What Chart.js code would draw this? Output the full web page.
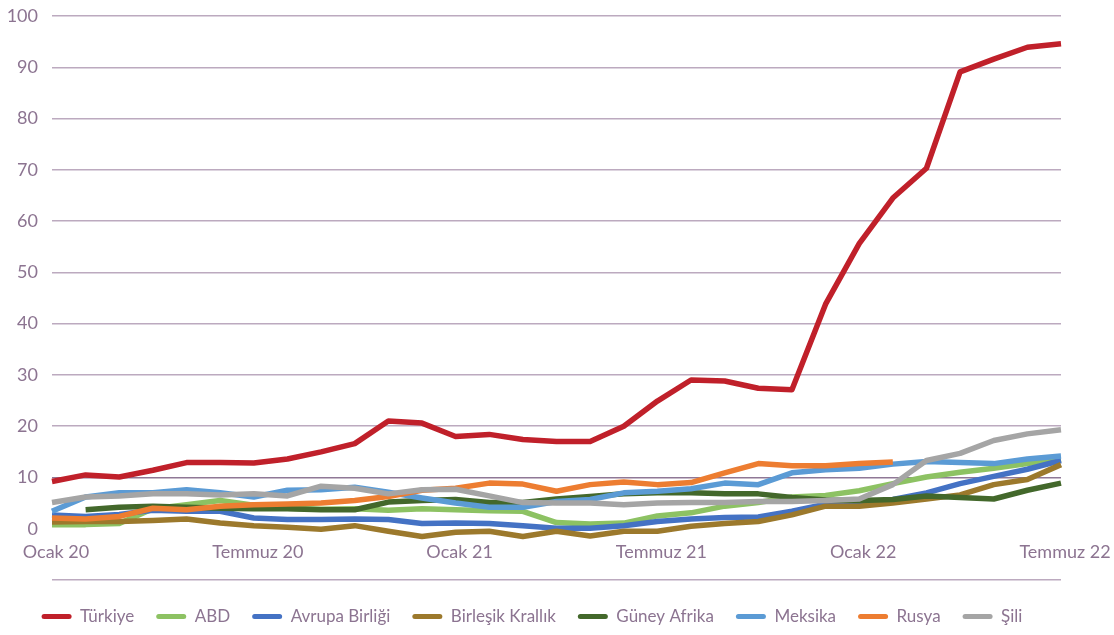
<!DOCTYPE html>
<html>
<head>
<meta charset="utf-8">
<script src="https://cdn.jsdelivr.net/npm/chart.js@4"></script>
<style>
  html, body { margin: 0; padding: 0; background: #fff; }
  #wrap { width: 1114px; height: 635px; }
</style>
</head>
<body>
<div id="wrap"><canvas id="chart" width="1114" height="635"></canvas></div>
<script>
// aylar (Ocak 20 - Temmuz 22)
const months = [
  "Ocak 20", "Şubat 20", "Mart 20", "Nisan 20", "Mayıs 20", "Haziran 20",
  "Temmuz 20", "Ağustos 20", "Eylül 20", "Ekim 20", "Kasım 20", "Aralık 20",
  "Ocak 21", "Şubat 21", "Mart 21", "Nisan 21", "Mayıs 21", "Haziran 21",
  "Temmuz 21", "Ağustos 21", "Eylül 21", "Ekim 21", "Kasım 21", "Aralık 21",
  "Ocak 22", "Şubat 22", "Mart 22", "Nisan 22", "Mayıs 22", "Haziran 22",
  "Temmuz 22"
];

const turkiye = [9.2, 10.5, 10.1, 11.4, 12.9, 12.9, 12.8, 13.6, 15.0, 16.6, 21.0, 20.6, 18.0, 18.4, 17.4, 17.0, 17.0, 20.0, 24.9, 29.0, 28.8, 27.4, 27.1, 43.8, 55.6, 64.5, 70.3, 89.1, 91.6, 93.9, 94.6];
const abd = [0.8, 0.8, 1.0, 3.9, 4.7, 5.5, 4.6, 4.0, 3.8, 3.9, 3.6, 3.9, 3.7, 3.5, 3.4, 1.2, 0.9, 1.1, 2.5, 3.1, 4.4, 5.1, 6.2, 6.5, 7.4, 8.8, 10.1, 11.0, 11.8, 12.7, 13.5];
const avrupaBirligi = [2.7, 2.4, 2.8, 3.6, 3.4, 3.4, 2.1, 1.8, 1.8, 1.9, 1.8, 1.0, 1.1, 1.0, 0.6, 0.1, 0.1, 0.6, 1.4, 1.9, 2.2, 2.3, 3.4, 4.8, 4.9, 5.7, 7.0, 8.8, 10.2, 11.6, 13.3];
const birlesikKrallik = [1.3, 1.4, 1.4, 1.6, 1.9, 1.1, 0.6, 0.3, -0.1, 0.6, -0.5, -1.5, -0.7, -0.5, -1.5, -0.5, -1.4, -0.5, -0.5, 0.5, 1.0, 1.4, 2.7, 4.4, 4.4, 5.0, 5.8, 6.6, 8.6, 9.6, 12.5];
const guneyAfrika = [null, 3.7, 4.2, 4.4, 4.2, 4.0, 3.9, 3.9, 3.7, 3.7, 5.2, 5.5, 5.7, 5.1, 5.1, 5.8, 6.3, 6.8, 7.0, 7.0, 6.8, 6.8, 6.1, 5.6, 5.5, 5.7, 6.4, 6.1, 5.8, 7.5, 8.9];
const meksika = [3.4, 6.2, 7.0, 7.0, 7.6, 7.0, 6.2, 7.5, 7.6, 8.1, 7.1, 6.0, 5.0, 4.2, 4.2, 5.3, 5.7, 7.0, 7.3, 7.8, 8.9, 8.6, 10.9, 11.5, 11.8, 12.6, 13.1, 12.9, 12.7, 13.6, 14.2];
const rusya = [2.1, 1.9, 2.4, 4.0, 3.7, 4.4, 4.7, 4.8, 5.0, 5.5, 6.3, 7.5, 7.9, 8.9, 8.7, 7.3, 8.6, 9.1, 8.6, 9.0, 10.9, 12.7, 12.3, 12.3, 12.7, 13.0, null, null, null, null, null];
const sili = [5.1, 6.2, 6.4, 6.8, 6.8, 6.6, 6.8, 6.4, 8.3, 7.9, 6.8, 7.6, 7.7, 6.4, 5.1, 5.0, 5.0, 4.7, 5.0, 5.1, 5.1, 5.3, 5.3, 5.5, 5.8, 8.6, 13.3, 14.7, 17.2, 18.5, 19.3];

const seriesNames = ["Türkiye", "ABD", "Avrupa Birliği", "Birleşik Krallık", "Güney Afrika", "Meksika", "Rusya", "Şili"];
const seriesData = [turkiye, abd, avrupaBirligi, birlesikKrallik, guneyAfrika, meksika, rusya, sili];
const seriesColors = ["#c0202a", "#8dc263", "#4472c4", "#9c792c", "#43682b", "#5b9bd5", "#ed7d31", "#a5a5a5"];

const textColor = "#8c7491";
const gridColor = "#bcaabf";

const datasets = seriesNames.map((name, i) => ({
  label: name,
  data: seriesData[i],
  borderColor: seriesColors[i],
  backgroundColor: seriesColors[i],
  borderWidth: 5.5,
  pointRadius: 0,
  tension: 0,
  borderJoinStyle: "round",
  order: seriesNames.length - i, // sonraki seriler üstte
}));

new Chart(document.getElementById("chart"), {
  type: "line",
  data: { labels: months, datasets: datasets },
  options: {
    responsive: false,
    animation: false,
    // sağdaki 50px lejantı biraz sola kaydırır
    layout: { padding: { left: 0, right: 50, top: 16, bottom: 0 } },
    plugins: {
      tooltip: { enabled: false },
      legend: {
        position: "bottom",
        labels: {
          color: textColor,
          font: { family: "Lato", size: 17 },
          boxWidth: 30,
          boxHeight: 5,
          padding: 22,
          useBorderRadius: true,
          borderRadius: 2.5,
          sort: (a, b) => a.datasetIndex - b.datasetIndex,
          generateLabels: (chart) =>
            Chart.defaults.plugins.legend.labels.generateLabels(chart).map((item) => ({
              ...item,
              lineWidth: 0,
            })),
        },
      },
    },
    scales: {
      x: {
        type: "category",
        offset: false,
        grid: { display: false, drawTicks: false },
        border: { display: false },
        ticks: {
          color: textColor,
          font: { family: "Lato", size: 18 },
          autoSkip: false,
          maxRotation: 0,
          mirror: true,
          padding: 17,
          labelOffset: 4,
          callback: function (value, index) {
            return index % 6 === 0 ? this.getLabelForValue(value) : "";
          },
        },
        afterFit: (scale) => {
          scale.height = 6;
          scale.paddingLeft = 0;
          scale.paddingRight = 0;
        },
      },
      y: {
        min: -10,
        max: 100,
        grid: {
          drawTicks: false,
          lineWidth: 1.5,
          color: (ctx) => {
            if (ctx.tick.value === 0) return "rgba(0,0,0,0)";
            if (ctx.tick.value === 10) return "#8f7896";
            return gridColor;
          },
        },
        border: { display: false },
        ticks: {
          stepSize: 10,
          color: textColor,
          font: { family: "Lato", size: 18 },
          padding: 14,
          callback: (v) => (v < 0 ? "" : v),
        },
        afterFit: (scale) => {
          scale.width = 52;
          scale.paddingTop = 0;
          scale.paddingBottom = 0;
        },
      },
      // sağ boşluk için boş eksen
      sag: {
        position: "right",
        grid: { display: false, drawTicks: false },
        border: { display: false },
        ticks: { display: false },
        afterFit: (scale) => {
          scale.width = 3;
        },
      },
    },
  },
});
</script>
</body>
</html>
